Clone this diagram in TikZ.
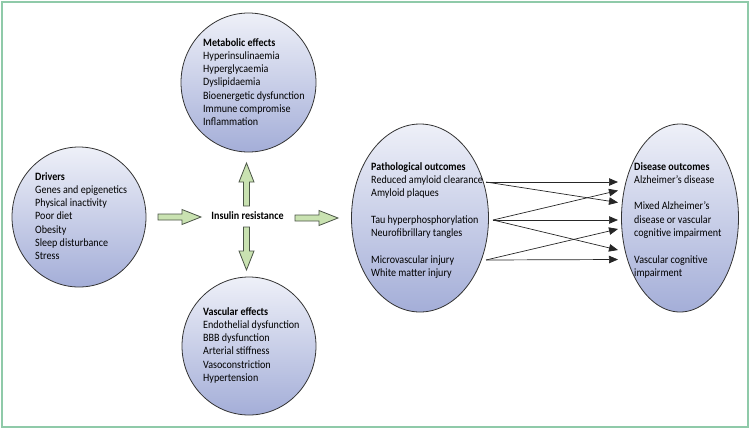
\documentclass[tikz,border=0pt]{standalone}
\usepackage{fontspec}
\setmainfont{Carlito}[FakeStretch=0.9]
\usetikzlibrary{shapes.geometric,arrows.meta}
\definecolor{framegreen}{HTML}{8FCAA9}
\definecolor{ovaltop}{HTML}{EEF0F8}
\definecolor{ovalbot}{HTML}{A4AED8}
\definecolor{arrowfill}{HTML}{C9E2B1}
\definecolor{arrowline}{HTML}{4A5446}
\tikzset{
  oval/.style={ellipse, draw=black!80, line width=0.8pt, top color=ovaltop, bottom color=ovalbot, inner sep=0pt},
  txt/.style={anchor=north west, align=left, inner sep=0pt, font=\fontsize{11.2}{13.3}\selectfont},
  conn/.style={draw=black!85, line width=0.7pt, -{Triangle[length=9pt,width=7.5pt]}},
  blockarrow/.pic={\draw[fill=arrowfill, draw=arrowline, line width=0.8pt] (0,-3) -- (24,-3) -- (24,-7.5) -- (43,0) -- (24,7.5) -- (24,3) -- (0,3) -- cycle;}
}
\begin{document}
\begin{tikzpicture}[x=1pt,y=-1pt]
\useasboundingbox (0,0) rectangle (750,429);
\draw[framegreen, line width=1.6pt] (2,2) rectangle (748,427);
% ovals
\node[oval, minimum width=134pt, minimum height=140pt] (drv) at (79,217) {};
\node[oval, minimum width=135pt, minimum height=139pt] (met) at (248.5,82.5) {};
\node[oval, minimum width=134pt, minimum height=138pt] (vas) at (249,346) {};
\node[oval, minimum width=137pt, minimum height=188pt] (pat) at (420,218) {};
\node[oval, minimum width=117pt, minimum height=188pt] (dis) at (680,218) {};
% texts
\node[txt] (drvt) at (35,172) {\textbf{Drivers}\\Genes and epigenetics\\Physical inactivity\\Poor diet\\Obesity\\Sleep disturbance\\Stress};
\node[txt] (mett) at (203,38) {\textbf{Metabolic effects}\\Hyperinsulinaemia\\Hyperglycaemia\\Dyslipidaemia\\Bioenergetic dysfunction\\Immune compromise\\Inflammation};
\node[txt] (vast) at (203,307) {\textbf{Vascular effects}\\Endothelial dysfunction\\BBB dysfunction\\Arterial stiffness\\Vasoconstriction\\Hypertension};
\node[txt] (patt) at (371,162) {\textbf{Pathological outcomes}\\Reduced amyloid clearance\\Amyloid plaques\\[13.3pt]Tau hyperphosphorylation\\Neurofibrillary tangles\\[13.3pt]Microvascular injury\\White matter injury};
\node[txt] (dist) at (634,162) {\textbf{Disease outcomes}\\Alzheimer’s disease\\[13.3pt]Mixed Alzheimer’s\\disease or vascular\\cognitive impairment\\[13.3pt]Vascular cognitive\\impairment};
\node[font=\fontsize{11.2}{13}\selectfont\bfseries, inner sep=0pt] (ins) at (247.5,216) {Insulin resistance};
% block arrows
\pic at (158,217) {blockarrow};
\pic at (295,218) {blockarrow};
\pic[rotate=90] at (246.5,206) {blockarrow};
\pic[rotate=-90] at (246.5,227) {blockarrow};
% connector endpoints
\coordinate (sA) at (486,182);
\coordinate (sB) at (493,220);
\coordinate (sC) at (486,260);
\coordinate (e1) at (618,182);
\coordinate (e2) at (618,190.5);
\coordinate (e3) at (618,202.5);
\coordinate (e4) at (618,220);
\coordinate (e5) at (618,229);
\coordinate (e6) at (618,250);
\coordinate (e7) at (618,259.5);
\draw[conn] (sA) -- (e1);
\draw[conn] (sA) -- (e3);
\draw[conn] (sB) -- (e2);
\draw[conn] (sB) -- (e4);
\draw[conn] (sB) -- (e6);
\draw[conn] (sC) -- (e5);
\draw[conn] (sC) -- (e7);
\end{tikzpicture}
\end{document}
